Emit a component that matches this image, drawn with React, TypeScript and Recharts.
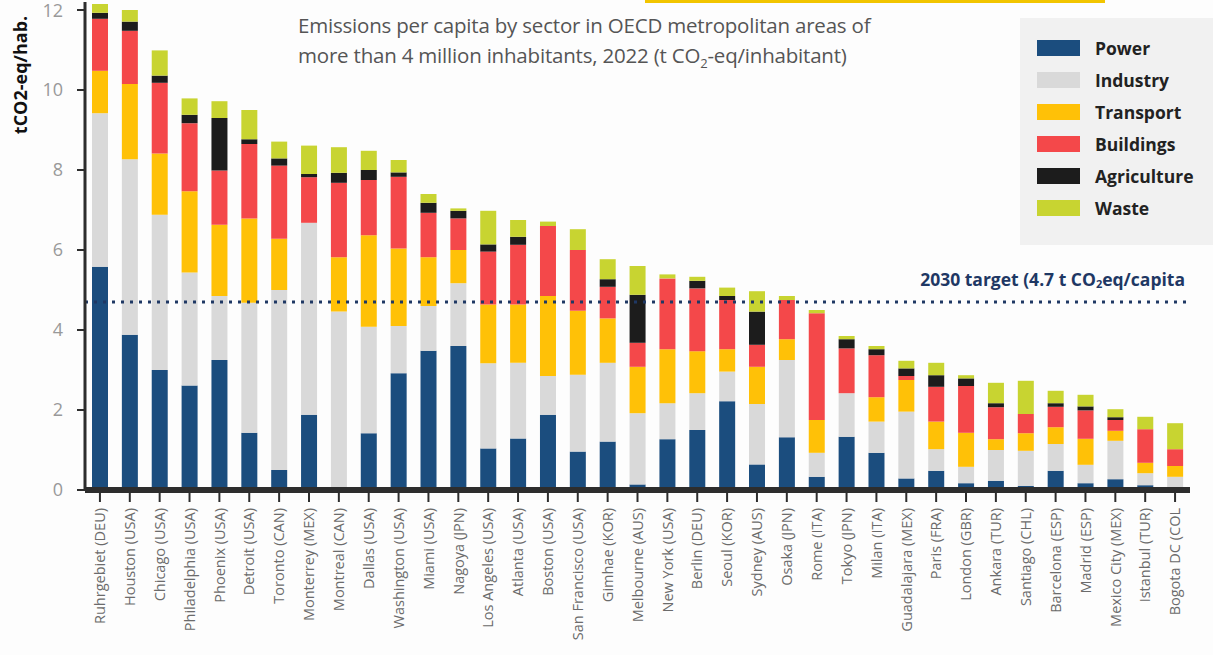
import React from 'react';
import {
  BarChart,
  Bar,
  XAxis,
  YAxis,
  Legend,
  ReferenceLine,
} from 'recharts';

// Metropolitan areas, in the order shown
const cities = [
  'Ruhrgebiet (DEU)', 'Houston (USA)', 'Chicago (USA)', 'Philadelphia (USA)', 'Phoenix (USA)',
  'Detroit (USA)', 'Toronto (CAN)', 'Monterrey (MEX)', 'Montreal (CAN)', 'Dallas (USA)',
  'Washington (USA)', 'Miami (USA)', 'Nagoya (JPN)', 'Los Angeles (USA)', 'Atlanta (USA)',
  'Boston (USA)', 'San Francisco (USA)', 'Gimhae (KOR)', 'Melbourne (AUS)', 'New York (USA)',
  'Berlin (DEU)', 'Seoul (KOR)', 'Sydney (AUS)', 'Osaka (JPN)', 'Rome (ITA)',
  'Tokyo (JPN)', 'Milan (ITA)', 'Guadalajara (MEX)', 'Paris (FRA)', 'London (GBR)',
  'Ankara (TUR)', 'Santiago (CHL)', 'Barcelona (ESP)', 'Madrid (ESP)', 'Mexico City (MEX)',
  'Istanbul (TUR)', 'Bogota DC (COL',
];

// t CO2-eq per inhabitant, per sector
const power = [
  5.58, 3.88, 3.0, 2.61, 3.25, 1.43, 0.5, 1.88, 0, 1.42,
  2.92, 3.48, 3.6, 1.04, 1.29, 1.88, 0.96, 1.21, 0.14, 1.27,
  1.5, 2.22, 0.64, 1.32, 0.33, 1.33, 0.93, 0.29, 0.48, 0.17,
  0.23, 0.1, 0.48, 0.17, 0.27, 0.12, 0.02,
];
const industry = [
  3.84, 4.39, 3.88, 2.83, 1.6, 3.25, 4.5, 4.8, 4.46, 2.66,
  1.18, 1.12, 1.57, 2.13, 1.89, 0.97, 1.92, 1.97, 1.78, 0.9,
  0.92, 0.74, 1.51, 1.93, 0.6, 1.09, 0.78, 1.67, 0.54, 0.41,
  0.77, 0.88, 0.67, 0.46, 0.96, 0.3, 0.31,
];
const transport = [
  1.06, 1.88, 1.53, 2.03, 1.78, 2.11, 1.28, 0, 1.36, 2.29,
  1.94, 1.22, 0.83, 1.47, 1.46, 2.0, 1.6, 1.11, 1.16, 1.35,
  1.05, 0.56, 0.93, 0.52, 0.82, 0, 0.61, 0.79, 0.69, 0.85,
  0.27, 0.44, 0.42, 0.65, 0.25, 0.26, 0.27,
];
const buildings = [
  1.3, 1.33, 1.77, 1.7, 1.36, 1.86, 1.83, 1.14, 1.86, 1.38,
  1.79, 1.11, 0.79, 1.32, 1.49, 1.75, 1.52, 0.79, 0.6, 1.77,
  1.57, 1.23, 0.55, 0.98, 2.67, 1.12, 1.05, 0.1, 0.87, 1.17,
  0.8, 0.48, 0.51, 0.71, 0.27, 0.84, 0.42,
];
const agriculture = [
  0.15, 0.23, 0.18, 0.21, 1.31, 0.12, 0.18, 0.08, 0.25, 0.25,
  0.11, 0.25, 0.19, 0.18, 0.2, 0, 0, 0.19, 1.2, 0,
  0.19, 0.1, 0.83, 0, 0, 0.23, 0.15, 0.19, 0.29, 0.19,
  0.1, 0, 0.09, 0.1, 0.07, 0, 0,
];
const waste = [
  0.22, 0.29, 0.63, 0.41, 0.42, 0.73, 0.42, 0.71, 0.64, 0.48,
  0.31, 0.22, 0.06, 0.84, 0.42, 0.11, 0.52, 0.5, 0.72, 0.1,
  0.1, 0.21, 0.51, 0.1, 0.08, 0.08, 0.08, 0.19, 0.31, 0.08,
  0.51, 0.83, 0.31, 0.29, 0.2, 0.31, 0.65,
];

const yTicks = [0, 2, 4, 6, 8, 10, 12];
const target = 4.7;

const series = [
  { key: 'power', name: 'Power', color: '#1b4d7e', values: power },
  { key: 'industry', name: 'Industry', color: '#d9d9d9', values: industry },
  { key: 'transport', name: 'Transport', color: '#ffc107', values: transport },
  { key: 'buildings', name: 'Buildings', color: '#f4484a', values: buildings },
  { key: 'agriculture', name: 'Agriculture', color: '#1c1c1c', values: agriculture },
  { key: 'waste', name: 'Waste', color: '#c8d431', values: waste },
];

const data = cities.map((city, i) => {
  const row: Record<string, string | number> = { city };
  series.forEach((s) => {
    row[s.key] = s.values[i];
  });
  return row;
});

const font = '"Open Sans", "Noto Sans", sans-serif';

const CityTick = (props: any) => {
  const { x, y, payload } = props;
  return (
    <text
      x={x}
      y={y + 4}
      transform={`rotate(-90, ${x}, ${y + 4})`}
      textAnchor="end"
      dy="0.36em"
      fontSize={14.5}
      fontFamily={font}
      fill="#6b6b6b"
    >
      {payload.value}
    </text>
  );
};

// legend keeps the series order (bottom of the stack first)
const renderLegend = (props: any) => {
  const { payload = [] } = props;
  const colorOf = (name: string) => {
    const hit = payload.find((p: any) => p.value === name);
    return hit ? hit.color : '#ccc';
  };
  return (
    <div
      style={{
        background: '#f1f1f1',
        width: 193,
        height: 227,
        boxSizing: 'border-box',
        paddingTop: 14,
        paddingLeft: 17,
        fontFamily: font,
      }}
    >
      {series.map((s) => (
        <div key={s.key} style={{ display: 'flex', alignItems: 'center', height: 32 }}>
          <span style={{ display: 'inline-block', width: 43, height: 16, background: colorOf(s.name) }} />
          <span style={{ marginLeft: 15, fontSize: 17.5, fontWeight: 700, color: '#222' }}>{s.name}</span>
        </div>
      ))}
    </div>
  );
};

const TargetLabel = (props: any) => {
  const { viewBox } = props;
  if (!viewBox) return null;
  const x = viewBox.x + viewBox.width - 5;
  const y = viewBox.y - 21;
  return (
    <text x={x} y={y} textAnchor="end" dominantBaseline="middle" fontFamily={font} fontSize={17.5} fontWeight={700} fill="#1f3864">
      2030 target (4.7 t CO<tspan fontSize={11} dy={4}>2</tspan><tspan dy={-4}>eq/capita</tspan>
    </text>
  );
};

const YTitle = (props: any) => {
  const { viewBox } = props;
  if (!viewBox) return null;
  const x = 22;
  const y = viewBox.y + 73;
  return (
    <text x={x} y={y} transform={`rotate(-90, ${x}, ${y})`} textAnchor="middle" dominantBaseline="middle" fontFamily={font} fontSize={18} fontWeight={700} fill="#111">
      tCO2-eq/hab.
    </text>
  );
};

export default function App() {
  return (
    <div style={{ position: 'absolute', left: 0, top: 0, width: 1213, height: 655, background: '#fdfdfd', overflow: 'hidden' }}>
      <div style={{ position: 'absolute', left: 645, top: 0, width: 460, height: 3, background: '#f2c500' }} />
      <div
        style={{
          position: 'absolute',
          left: 298,
          top: 10,
          fontFamily: font,
          fontSize: 20.5,
          lineHeight: '30px',
          color: '#555',
          letterSpacing: -0.2,
          zIndex: 2,
        }}
      >
        <div>Emissions per capita by sector in OECD metropolitan areas of</div>
        <div>
          more than 4 million inhabitants, 2022 (t CO<sub style={{ fontSize: 13 }}>2</sub>-eq/inhabitant)
        </div>
      </div>
      <BarChart
        width={1213}
        height={655}
        data={data}
        margin={{ top: 2, right: 23, bottom: 0, left: 0 }}
        barCategoryGap={0}
        barSize={16}
      >
        <XAxis
          dataKey="city"
          interval={0}
          tick={<CityTick />}
          tickSize={12}
          tickLine={{ stroke: '#2d2d2d', strokeWidth: 2 }}
          axisLine={{ stroke: '#2d2d2d', strokeWidth: 6 }}
          height={165}
        />
        <YAxis
          width={85}
          domain={[0, 12.2]}
          ticks={yTicks}
          tickSize={8}
          tickMargin={14}
          tick={{ fontSize: 18, fill: '#999', fontFamily: font }}
          tickLine={{ stroke: '#2d2d2d', strokeWidth: 2 }}
          axisLine={{ stroke: '#2d2d2d', strokeWidth: 3 }}
          label={<YTitle />}
        />
        {series.map((s) => (
          <Bar
            key={s.key}
            dataKey={s.key}
            name={s.name}
            stackId="a"
            fill={s.color}
            isAnimationActive={false}
          />
        ))}
        <ReferenceLine
          y={target}
          stroke="#1f3864"
          strokeWidth={3}
          strokeDasharray="3 6"
          label={<TargetLabel />}
        />
        <Legend
          layout="vertical"
          align="center"
          verticalAlign="middle"
          content={renderLegend}
          wrapperStyle={{ left: 1020, top: 18, width: 193, height: 227 }}
        />
      </BarChart>
    </div>
  );
}
